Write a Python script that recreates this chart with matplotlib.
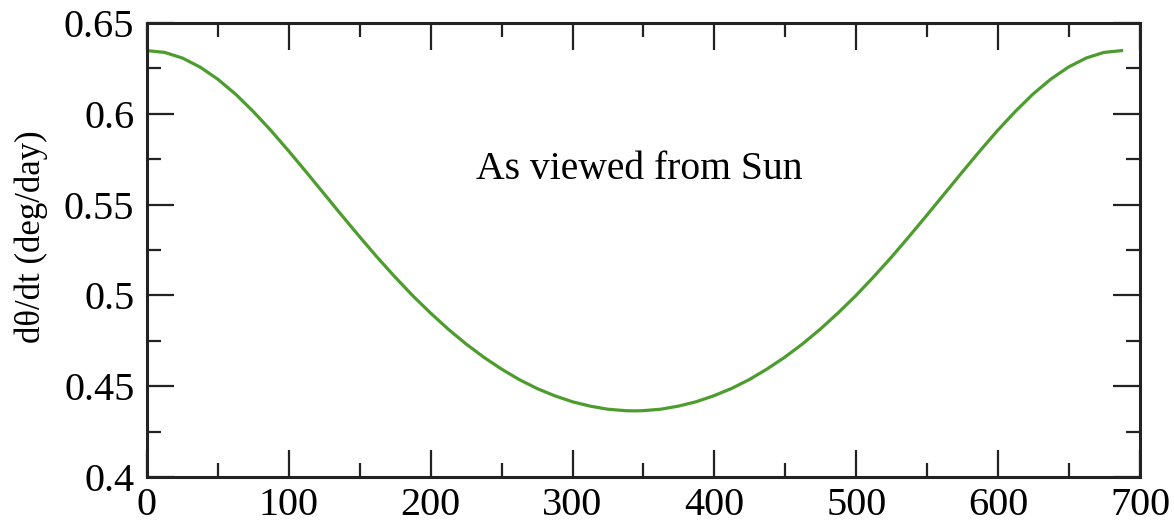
import matplotlib
matplotlib.use("Agg")
import matplotlib.pyplot as plt
from matplotlib.ticker import MultipleLocator

days = [0, 12.5, 25, 37.5, 50, 62.5, 75, 87.5, 100, 112.5, 125, 137.5, 150,
        162.5, 175, 187.5, 200, 212.5, 225, 237.5, 250, 262.5, 275, 287.5,
        300, 312.5, 325, 337.5, 343.5,
        349.5, 362, 374.5, 387, 399.5, 412, 424.5, 437, 449.5, 462, 474.5,
        487, 499.5, 512, 524.5, 537, 549.5, 562, 574.5, 587, 599.5, 612,
        624.5, 637, 649.5, 662, 674.5, 687]
rate = [0.6348, 0.6338, 0.6307, 0.6257, 0.6190, 0.6108, 0.6012, 0.5907, 0.5794,
        0.5677, 0.5558, 0.5439, 0.5322, 0.5208, 0.5100, 0.4997, 0.4902, 0.4813,
        0.4732, 0.4659, 0.4594, 0.4536, 0.4487, 0.4447, 0.4414, 0.4390, 0.4373,
        0.4365, 0.4364,
        0.4365, 0.4373, 0.4390, 0.4414, 0.4447, 0.4487, 0.4536, 0.4594, 0.4659,
        0.4732, 0.4813, 0.4902, 0.4997, 0.5100, 0.5208, 0.5322, 0.5439, 0.5558,
        0.5677, 0.5794, 0.5907, 0.6012, 0.6108, 0.6190, 0.6257, 0.6307, 0.6338,
        0.6348]

annotation = "As viewed from Sun"
ylabel = "dθ/dt (deg/day)"
yticks = [0.4, 0.45, 0.5, 0.55, 0.6, 0.65]
yticklabels = ['0.4', '0.45', '0.5', '0.55', '0.6', '0.65']

plt.rcParams['font.family'] = ['Liberation Serif', 'DejaVu Serif']

fig = plt.figure(figsize=(11.74, 5.23), dpi=100)
ax = fig.add_axes([0.1252, 0.088, 0.8458, 0.868])
ax.plot(days, rate, color='#4c9c2e', lw=2.3, solid_joinstyle='round')
ax.set_xlim(0, 700)
ax.set_ylim(0.4, 0.65)
ax.xaxis.set_major_locator(MultipleLocator(100))
ax.xaxis.set_minor_locator(MultipleLocator(50))
ax.yaxis.set_minor_locator(MultipleLocator(0.025))
ax.set_yticks(yticks)
ax.set_yticklabels(yticklabels)
ax.tick_params(which='both', direction='in', top=True, right=True, width=1.6,
               labelsize=29, color='#222222')
ax.tick_params(which='major', length=19.5)
ax.tick_params(which='minor', length=10)
ax.tick_params(axis='x', which='major', pad=7)
ax.tick_params(axis='y', which='major', pad=9)
for s in ax.spines.values():
    s.set_linewidth(2.2)
    s.set_color('#222222')
ax.set_ylabel(ylabel, fontsize=25)
ax.yaxis.set_label_coords(-0.1, 0.53)
ax.text(347, 0.5695, annotation, fontsize=28.5, ha='center', va='center')
fig.savefig('out.png', dpi=100)
